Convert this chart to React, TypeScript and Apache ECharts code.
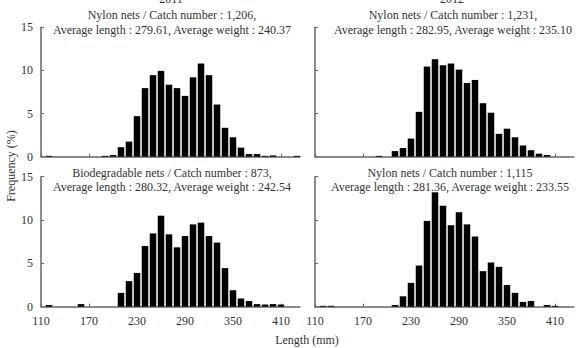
import React, { useEffect, useRef } from "react";
import * as echarts from "echarts";

// Length bins (mm), bin centres
const bins = [110, 120, 130, 140, 150, 160, 170, 180, 190, 200, 210, 220, 230, 240, 250, 260, 270, 280, 290, 300, 310, 320, 330, 340, 350, 360, 370, 380, 390, 400, 410, 420, 430];

// Frequency (%) per bin
const nylon2011 = [0, 0.1, 0, 0, 0, 0, 0, 0, 0.1, 0.2, 1.1, 1.75, 4.7, 7.95, 9.45, 9.95, 8.35, 7.95, 7.05, 9.2, 10.8, 9.45, 6.05, 3.35, 2.25, 1.05, 0.3, 0.3, 0.1, 0.15, 0, 0, 0.1];
const nylon2012 = [0, 0, 0, 0, 0, 0, 0, 0, 0.1, 0, 0.65, 1.0, 2.1, 5.2, 10.45, 11.3, 10.6, 10.8, 10.1, 8.55, 8.9, 6.2, 5.1, 2.65, 3.25, 2.25, 1.3, 0.75, 0.35, 0.2, 0, 0, 0];
const bio2011 = [0, 0.2, 0, 0, 0, 0.3, 0, 0, 0, 0, 1.6, 2.95, 3.9, 7.0, 8.45, 10.5, 8.35, 6.85, 8.15, 9.5, 9.7, 8.15, 7.4, 4.45, 1.9, 0.95, 0.65, 0.3, 0.25, 0.3, 0.25, 0, 0];
const nylon2012b = [0, 0.1, 0.1, 0, 0, 0, 0, 0, 0, 0, 0.2, 1.2, 2.75, 4.75, 9.9, 13.2, 11.65, 9.4, 10.9, 9.5, 8.1, 4.1, 5.1, 4.6, 2.5, 1.6, 0.55, 0.65, 0, 0.2, 0.1, 0, 0];

const xTickLabels = [110, 170, 230, 290, 350, 410];
const yTickLabels = [0, 5, 10, 15];

const yearTitles = ["2011", "2012"];
const panelTitles = [
  ["Nylon nets / Catch number : 1,206,", "Average length : 279.61, Average weight : 240.37"],
  ["Nylon nets / Catch number : 1,231,", "Average length : 282.95, Average weight : 235.10"],
  ["Biodegradable nets / Catch number : 873,", "Average length : 280.32, Average weight : 242.54"],
  ["Nylon nets / Catch number : 1,115", "Average length : 281.36, Average weight : 233.55"],
];
const yAxisTitle = "Frequency (%)";
const xAxisTitle = "Length (mm)";

const FONT = '"Liberation Serif", "Times New Roman", serif';
const TEXT = "#333";
const AXIS = "#666";

export default function App() {
  const ref = useRef<HTMLDivElement>(null);
  useEffect(() => {
    if (!ref.current) return;
    const chart = echarts.init(ref.current, null, { renderer: "svg" });
    const series = [nylon2011, nylon2012, bio2011, nylon2012b];
    const grids = [
      { left: 41, top: 27.3, width: 259, height: 129.4 },
      { left: 315, top: 27.3, width: 259, height: 129.4 },
      { left: 41, top: 176.7, width: 259, height: 130 },
      { left: 315, top: 176.7, width: 259, height: 130 },
    ];
    const xAxes = grids.map((_, i) => ({
      type: "value",
      gridIndex: i,
      min: 110,
      max: 433.75,
      interval: 60,
      splitLine: { show: false },
      axisLine: { show: true, lineStyle: { color: AXIS, width: 1.5 } },
      axisTick: { show: true, inside: true, length: 3, customValues: xTickLabels, lineStyle: { color: AXIS } },
      axisLabel: {
        show: i >= 2,
        customValues: xTickLabels,
        margin: 8,
        fontFamily: FONT,
        fontSize: 12,
        color: TEXT,
      },
    }));
    const yAxes = grids.map((_, i) => ({
      type: "value",
      gridIndex: i,
      min: 0,
      max: 15,
      interval: 5,
      splitLine: { show: false },
      axisLine: { show: true, lineStyle: { color: AXIS, width: 1.5 } },
      axisTick: { show: true, inside: true, length: 3, customValues: yTickLabels, lineStyle: { color: AXIS } },
      axisLabel: {
        show: i % 2 === 0,
        customValues: yTickLabels,
        margin: 8,
        fontFamily: FONT,
        fontSize: 12,
        color: TEXT,
      },
    }));
    const graphics: any[] = [];
    const centers = [172, 453, 172, 450];
    const line1Y = [15, 15, 172.5, 172.5];
    panelTitles.forEach((t, i) => {
      graphics.push({
        type: "text",
        x: centers[i],
        y: line1Y[i],
        style: { text: t[0], font: `12px ${FONT}`, fill: TEXT, textAlign: "center", textVerticalAlign: "middle" },
      });
      graphics.push({
        type: "text",
        x: centers[i],
        y: line1Y[i] + 14.5,
        style: { text: t[1], font: `12px ${FONT}`, fill: TEXT, textAlign: "center", textVerticalAlign: "middle" },
      });
    });
    yearTitles.forEach((t, i) => {
      graphics.push({
        type: "text",
        x: [171, 452][i],
        y: 5,
        style: { text: t, font: `12px ${FONT}`, fill: TEXT, textAlign: "center", textVerticalAlign: "bottom" },
      });
    });
    graphics.push({
      type: "text",
      x: 11,
      y: 166,
      rotation: Math.PI / 2,
      style: { text: yAxisTitle, font: `12px ${FONT}`, fill: TEXT, textAlign: "center", textVerticalAlign: "middle" },
    });
    graphics.push({
      type: "text",
      x: 307,
      y: 340,
      style: { text: xAxisTitle, font: `12px ${FONT}`, fill: TEXT, textAlign: "center", textVerticalAlign: "middle" },
    });

    chart.setOption({
      animation: false,
      backgroundColor: "#fff",
      grid: grids,
      xAxis: xAxes,
      yAxis: yAxes,
      series: series.map((d, i) => ({
        type: "bar",
        xAxisIndex: i,
        yAxisIndex: i,
        barWidth: 6.5,
        itemStyle: { color: "#000" },
        data: bins.map((b, k) => [b, d[k]]),
      })),
      graphic: graphics,
    });
    return () => chart.dispose();
  }, []);
  return <div ref={ref} style={{ width: 577, height: 348, position: "fixed", left: 0, top: 0 }} />;
}
